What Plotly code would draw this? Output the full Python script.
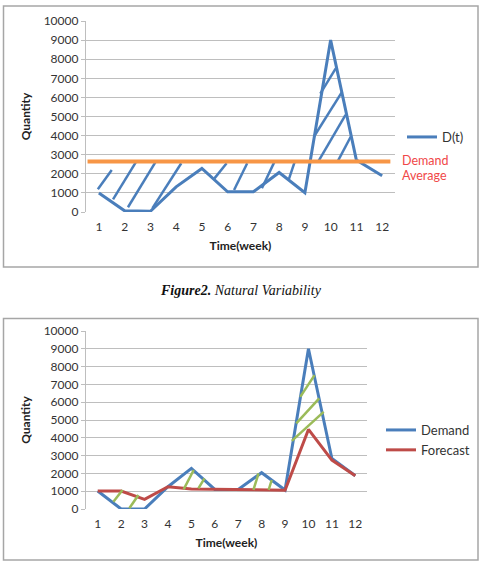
import plotly.graph_objects as go

# ---------------- data ----------------
weeks = [1, 2, 3, 4, 5, 6, 7, 8, 9, 10, 11, 12]
week_labels = [str(w) for w in weeks]
y_ticks = [0, 1000, 2000, 3000, 4000, 5000, 6000, 7000, 8000, 9000, 10000]
y_tick_labels = [str(v) for v in y_ticks]

# Chart 1: natural variability
demand_top = [1000, 60, 40, 1320, 2280, 1060, 1060, 2070, 1010, 9000, 2720, 1900]
demand_average = 2650

# hatch strokes (week, quantity) start -> end
hatch_top_x0 = [0.96, 1.55, 2.13, 3.08, 5.49, 6.25, 7.33, 8.37, 9.35, 9.60, 9.54, 10.29]
hatch_top_y0 = [1190, 660, 250, 200, 1760, 1150, 1240, 1680, 3940, 6200, 2690, 2690]
hatch_top_x1 = [1.50, 2.45, 3.21, 4.20, 5.96, 6.76, 7.84, 8.62, 10.45, 10.20, 10.58, 10.78]
hatch_top_y1 = [2200, 2640, 2640, 2550, 2550, 2550, 2690, 2690, 6300, 7520, 5080, 3940]

# Chart 2: demand vs forecast
demand_bot = [1010, 0, 0, 1250, 2280, 1100, 1100, 2040, 1065, 9000, 2840, 1870]
forecast_bot = [1010, 1010, 540, 1250, 1130, 1100, 1070, 1050, 1050, 4470, 2750, 1870]

hatch_bot_x0 = [1.67, 2.35, 4.67, 5.30, 7.65, 8.30, 9.65, 9.48, 9.29]
hatch_bot_y0 = [410, 40, 1100, 1160, 1070, 1070, 6300, 4810, 3830]
hatch_bot_x1 = [2.06, 2.74, 5.10, 5.56, 7.87, 8.43, 10.26, 10.46, 10.65]
hatch_bot_y1 = [1070, 785, 2190, 1720, 2000, 1630, 7520, 6210, 5460]

# ---------------- styling ----------------
W, H = 486, 576
BLUE = "#4A7EBB"
RED = "#BE4B48"
GREEN = "#9BBB59"
ORANGE = "#F79646"
GRID = "#BEBEBE"
FRAME = "#A6A6A6"
FONT = "Lato"
TXT = "#333333"


def px_x(p):
    return p / W


def px_y(p):
    return 1 - p / H


def segs(x0, y0, x1, y1):
    xs, ys = [], []
    for a, b, c, d in zip(x0, y0, x1, y1):
        xs += [a, c, None]
        ys += [b, d, None]
    return xs, ys


fig = go.Figure()

# top chart
hx, hy = segs(hatch_top_x0, hatch_top_y0, hatch_top_x1, hatch_top_y1)
fig.add_trace(go.Scatter(x=hx, y=hy, mode="lines", line=dict(color=BLUE, width=2.5),
                         showlegend=False, hoverinfo="skip", xaxis="x", yaxis="y"))
fig.add_trace(go.Scatter(x=weeks, y=demand_top, mode="lines", name="D(t)",
                         line=dict(color=BLUE, width=3), xaxis="x", yaxis="y",
                         legend="legend"))

# bottom chart
fig.add_trace(go.Scatter(x=weeks, y=demand_bot, mode="lines", name="Demand",
                         line=dict(color=BLUE, width=3), xaxis="x2", yaxis="y2",
                         legend="legend2"))
fig.add_trace(go.Scatter(x=weeks, y=forecast_bot, mode="lines", name="Forecast",
                         line=dict(color=RED, width=3), xaxis="x2", yaxis="y2",
                         legend="legend2"))
hx2, hy2 = segs(hatch_bot_x0, hatch_bot_y0, hatch_bot_x1, hatch_bot_y1)
fig.add_trace(go.Scatter(x=hx2, y=hy2, mode="lines", line=dict(color=GREEN, width=2.5),
                         showlegend=False, hoverinfo="skip", xaxis="x2", yaxis="y2"))

xaxis_common = dict(range=[0.5, 12.5], tickvals=weeks, ticktext=week_labels,
                    showgrid=False, zeroline=False, showline=False, ticks="",
                    ticklabelstandoff=6, automargin=False,
                    tickfont=dict(family=FONT, size=12, color=TXT),
                    title_font=dict(family=FONT, size=12, color="#222"),
                    fixedrange=True)
yaxis_common = dict(range=[0, 10000], tickvals=y_ticks, ticktext=y_tick_labels,
                    showgrid=True, gridcolor=GRID,
                    gridwidth=1.3, zeroline=False, showline=True, linecolor=GRID,
                    linewidth=1.3, ticks="outside", ticklen=4, tickcolor=GRID,
                    automargin=False,
                    tickfont=dict(family=FONT, size=12, color=TXT),
                    title_font=dict(family=FONT, size=12, color="#222"),
                    fixedrange=True)

fig.update_layout(
    template="none",
    width=W, height=H, margin=dict(l=0, r=0, t=0, b=0, pad=0),
    paper_bgcolor="white", plot_bgcolor="white",
    xaxis=dict(xaxis_common, domain=[px_x(86), px_x(395)], anchor="y",
               title=dict(text="<b>Time(week)</b>", standoff=8)),
    yaxis=dict(yaxis_common, domain=[px_y(212), px_y(21)], anchor="x",
               title=dict(text="<b>Quantity</b>", standoff=10)),
    xaxis2=dict(xaxis_common, domain=[px_x(86), px_x(367)], anchor="y2",
                title=dict(text="<b>Time(week)</b>", standoff=8)),
    yaxis2=dict(yaxis_common, domain=[px_y(509), px_y(331)], anchor="x2",
                title=dict(text="<b>Quantity</b>", standoff=10)),
    legend=dict(x=px_x(402), y=px_y(137), xanchor="left", yanchor="middle",
                font=dict(family=FONT, size=13, color=TXT), bgcolor="rgba(0,0,0,0)",
                itemclick=False, itemdoubleclick=False),
    legend2=dict(x=px_x(381), y=px_y(440), xanchor="left", yanchor="middle",
                 font=dict(family=FONT, size=13, color=TXT), bgcolor="rgba(0,0,0,0)",
                 itemclick=False, itemdoubleclick=False, tracegroupgap=0),
    showlegend=True,
)

# average line in top chart
fig.add_shape(type="line", xref="x domain", yref="y", x0=0.005, x1=0.985,
              y0=demand_average, y1=demand_average, line=dict(color=ORANGE, width=4))

# frames
fig.add_shape(type="rect", xref="paper", yref="paper", x0=px_x(3.5), x1=px_x(478),
              y0=px_y(267), y1=px_y(6), line=dict(color=FRAME, width=1.5))
fig.add_shape(type="rect", xref="paper", yref="paper", x0=px_x(3.5), x1=px_x(478),
              y0=px_y(560), y1=px_y(318.5), line=dict(color=FRAME, width=1.5))

# annotations
for txt, yy in (("Demand", 161), ("Average", 175)):
    fig.add_annotation(xref="paper", yref="paper", x=px_x(400), y=px_y(yy),
                       xanchor="left", yanchor="middle", align="left", showarrow=False,
                       text=txt, font=dict(family=FONT, size=12.5, color="#F04848"))
fig.add_annotation(xref="paper", yref="paper", x=px_x(241), y=px_y(290),
                   xanchor="center", yanchor="middle", showarrow=False,
                   text="<b><i>Figure2.</i></b><i> Natural Variability</i>",
                   font=dict(family="Liberation Serif", size=14, color="#111"))

fig.write_html("out.html")
